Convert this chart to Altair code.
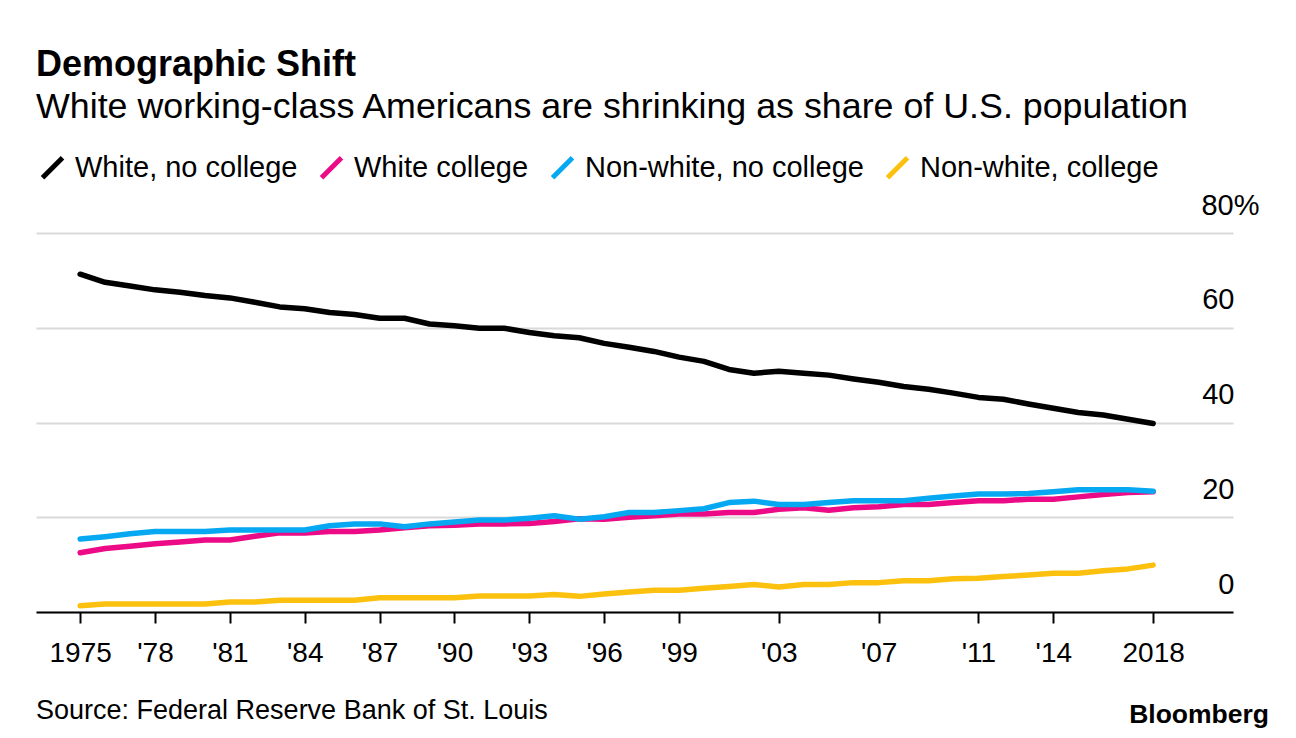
import altair as alt
import pandas as pd

years = list(range(1975, 2019))
white_no_college = [71.3, 69.6, 68.8, 68.0, 67.5, 66.8, 66.3, 65.4, 64.4, 64.0, 63.2, 62.8, 62.0, 62.0, 60.8,
                    60.4, 59.9, 59.9, 59.0, 58.3, 57.9, 56.7, 55.9, 55.0, 53.8, 52.9, 51.2, 50.4, 50.8, 50.4,
                    50.0, 49.2, 48.5, 47.6, 47.0, 46.2, 45.3, 44.9, 43.9, 43.0, 42.1, 41.6, 40.7, 39.8]
white_college = [12.5, 13.4, 13.9, 14.4, 14.8, 15.2, 15.2, 16.0, 16.7, 16.7, 17.0, 17.0, 17.3, 17.8, 18.2,
                 18.3, 18.6, 18.6, 18.7, 19.1, 19.7, 19.6, 20.0, 20.3, 20.7, 20.7, 21.0, 21.0, 21.7, 22.0,
                 21.5, 22.0, 22.2, 22.7, 22.7, 23.1, 23.5, 23.5, 23.8, 23.8, 24.3, 24.8, 25.2, 25.4]
nonwhite_no_college = [15.4, 15.9, 16.5, 17.0, 17.0, 17.0, 17.3, 17.3, 17.3, 17.3, 18.2, 18.6, 18.6, 18.0, 18.6,
                       19.0, 19.4, 19.4, 19.8, 20.3, 19.6, 20.1, 21.0, 21.0, 21.4, 21.8, 23.1, 23.4, 22.7, 22.7,
                       23.1, 23.5, 23.5, 23.5, 24.0, 24.5, 24.9, 24.9, 25.0, 25.4, 25.8, 25.8, 25.8, 25.5]
nonwhite_college = [1.3, 1.7, 1.7, 1.7, 1.7, 1.7, 2.1, 2.1, 2.5, 2.5, 2.5, 2.5, 3.0, 3.0, 3.0,
                    3.0, 3.4, 3.4, 3.4, 3.7, 3.3, 3.8, 4.2, 4.6, 4.6, 5.0, 5.4, 5.8, 5.3, 5.8,
                    5.8, 6.2, 6.2, 6.6, 6.6, 7.0, 7.1, 7.5, 7.8, 8.2, 8.2, 8.7, 9.1, 9.9]

series_names = ["White, no college", "White college", "Non-white, no college", "Non-white, college"]
series_colors = ["#000000", "#ec0a86", "#06a8f2", "#fcc10e"]
x_tick_years = [1975, 1978, 1981, 1984, 1987, 1990, 1993, 1996, 1999, 2003, 2007, 2011, 2014, 2018]
y_ticks = [0, 20, 40, 60, 80]

rows = []
for name, vals in zip(series_names, [white_no_college, white_college, nonwhite_no_college, nonwhite_college]):
    for yr, v in zip(years, vals):
        rows.append({"year": yr, "value": v, "series": name})
df = pd.DataFrame(rows)

FONT = "Liberation Sans"
W, H = 1197, 379

lines = alt.Chart(df).mark_line(strokeWidth=5.5, strokeCap="round", strokeJoin="round").encode(
    x=alt.X("year:Q",
            scale=alt.Scale(domain=[1973.23, 2021.2], nice=False, zero=False),
            axis=alt.Axis(values=x_tick_years, title=None, grid=False,
                          labelExpr="(datum.value == 1975 || datum.value == 2018) ? toString(datum.value) : \"'\" + substring(toString(datum.value), 2, 4)",
                          domainColor="#000000", domainWidth=2, tickColor="#000000", tickWidth=2,
                          tickSize=11, labelPadding=16, labelFontSize=28, labelFont=FONT,
                          labelColor="#000000", labelFlush=False, labelOverlap=False)),
    y=alt.Y("value:Q",
            scale=alt.Scale(domain=[0, 80], nice=False),
            axis=alt.Axis(orient="right", values=y_ticks, title=None, grid=True, gridColor="#d9d9d9",
                          gridWidth=2, domain=False, ticks=False, tickSize=0,
                          labelAlign="right", labelBaseline="alphabetic", labelOffset=-19,
                          labelPadding={"condition": {"test": "datum.value == 80", "value": 26}, "value": 1},
                          labelExpr="datum.value == 80 ? '80%' : datum.label",
                          labelFontSize=29, labelFont=FONT, labelColor="#000000")),
    color=alt.Color("series:N",
                    scale=alt.Scale(domain=series_names, range=series_colors),
                    sort=series_names,
                    legend=alt.Legend(title=None, orient="none", legendX=2, legendY=-80,
                                      direction="horizontal", columns=4, labelLimit=0,
                                      symbolType="M-1,1L1,-1", symbolSize=400, symbolStrokeWidth=5,
                                      labelFontSize=29, labelFont=FONT, labelColor="#000000",
                                      labelOffset=8, columnPadding=13, padding=0)),
)

foot = pd.DataFrame({"t": ["Source: Federal Reserve Bank of St. Louis"]})
source = alt.Chart(foot).mark_text(align="left", baseline="alphabetic", fontSize=27, font=FONT,
                                   color="#000000").encode(
    x=alt.value(0), y=alt.value(486), text="t:N")

brand = pd.DataFrame({"t": ["Bloomberg"]})
logo = alt.Chart(brand).mark_text(align="right", baseline="alphabetic", fontSize=26.5, font=FONT,
                                  fontWeight="bold", color="#000000").encode(
    x=alt.value(1233), y=alt.value(490), text="t:N")

chart = alt.layer(lines, source, logo).properties(
    width=W, height=H,
    background="#ffffff",
    title=alt.TitleParams(text="Demographic Shift",
                          subtitle="White working-class Americans are shrinking as share of U.S. population",
                          anchor="start", frame="group", font=FONT, fontSize=36, fontWeight="bold",
                          color="#000000", subtitleFont=FONT, subtitleFontSize=35.8,
                          subtitleColor="#000000", subtitlePadding=6, offset=27),
    autosize=alt.AutoSizeParams(type="none"),
    padding={"left": 28, "top": 225, "right": 55, "bottom": 118},
).configure_view(stroke=None)

chart.save("out.html", embed_options={"renderer": "svg", "actions": False})
